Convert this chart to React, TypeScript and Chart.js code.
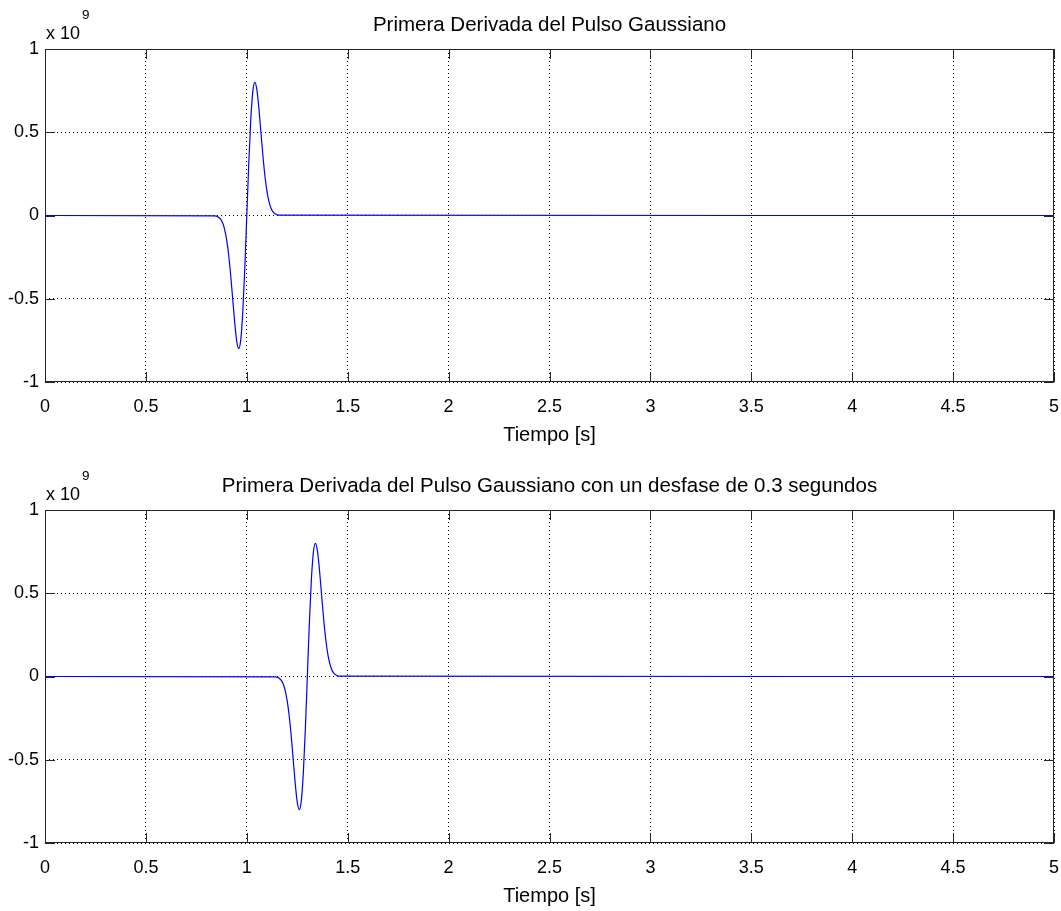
import React, { useEffect, useRef } from "react";
import { Chart, registerables } from "chart.js";

Chart.register(...registerables);

// ---- Data (values in units of 10^9) ----
const pulseTimeTop = [0, 0.84, 0.85, 0.86, 0.87, 0.88, 0.89, 0.9, 0.91, 0.92, 0.93, 0.94, 0.95, 0.96, 0.97, 0.98, 0.99, 1.0, 1.01, 1.02, 1.03, 1.04, 1.05, 1.06, 1.07, 1.08, 1.09, 1.1, 1.11, 1.12, 1.13, 1.14, 1.15, 1.16, 5];
const pulseValueTop = [0, -0.002, -0.004, -0.01, -0.022, -0.044, -0.083, -0.145, -0.236, -0.357, -0.499, -0.642, -0.755, -0.8, -0.747, -0.582, -0.32, 0, 0.32, 0.582, 0.747, 0.8, 0.755, 0.642, 0.499, 0.357, 0.236, 0.145, 0.083, 0.044, 0.022, 0.01, 0.004, 0.002, 0];

const pulseTimeBottom = [0, 1.14, 1.15, 1.16, 1.17, 1.18, 1.19, 1.2, 1.21, 1.22, 1.23, 1.24, 1.25, 1.26, 1.27, 1.28, 1.29, 1.3, 1.31, 1.32, 1.33, 1.34, 1.35, 1.36, 1.37, 1.38, 1.39, 1.4, 1.41, 1.42, 1.43, 1.44, 1.45, 1.46, 5];
const pulseValueBottom = [0, -0.002, -0.004, -0.01, -0.022, -0.044, -0.083, -0.145, -0.236, -0.357, -0.499, -0.642, -0.755, -0.8, -0.747, -0.582, -0.32, 0, 0.32, 0.582, 0.747, 0.8, 0.755, 0.642, 0.499, 0.357, 0.236, 0.145, 0.083, 0.044, 0.022, 0.01, 0.004, 0.002, 0];

const xTickValues = [0, 0.5, 1, 1.5, 2, 2.5, 3, 3.5, 4, 4.5, 5];
const xTickLabels = ["0", "0.5", "1", "1.5", "2", "2.5", "3", "3.5", "4", "4.5", "5"];
const yTickValues = [-1, -0.5, 0, 0.5, 1];
const yTickLabels = ["-1", "-0.5", "0", "0.5", "1"];

const titleTop = "Primera Derivada del Pulso Gaussiano";
const titleBottom = "Primera Derivada del Pulso Gaussiano con un desfase de 0.3 segundos";
const xLabel = "Tiempo [s]";
const exponentBase = "x 10";
const exponentPower = "9";

const FONT = '"Liberation Sans", Arial, Helvetica, sans-serif';

function makePlugin(title: string) {
  return {
    id: "matlabAxes",
    afterDraw(chart: any) {
      const ctx = chart.ctx;
      const a = chart.chartArea;
      const xs = chart.scales.x;
      const ys = chart.scales.y;
      ctx.save();
      ctx.setLineDash([]);
      ctx.globalAlpha = 1;
      ctx.fillStyle = "#262626";
      const L = Math.round(a.left);
      const R = Math.round(a.right) - 1;
      const T = Math.round(a.top);
      const B = Math.round(a.bottom) - 1;
      // box
      ctx.fillRect(L, T, R - L + 1, 1);
      ctx.fillRect(L, B, R - L + 1, 1);
      ctx.fillRect(L, T, 1, B - T + 1);
      ctx.fillRect(R, T, 1, B - T + 1);
      // inward ticks
      for (const v of xTickValues) {
        const p = Math.round(xs.getPixelForValue(v));
        ctx.fillRect(p, B - 9, 1, 10);
        ctx.fillRect(p, T, 1, 10);
      }
      for (const v of yTickValues) {
        const p = Math.round(ys.getPixelForValue(v));
        ctx.fillRect(L, p, 10, 1);
        ctx.fillRect(R - 9, p, 10, 1);
      }
      // texts
      ctx.fillStyle = "#000";
      ctx.textBaseline = "middle";
      ctx.textAlign = "center";
      ctx.font = `20.5px ${FONT}`;
      ctx.fillText(title, (a.left + a.right) / 2, a.top - 24);
      ctx.font = `20px ${FONT}`;
      ctx.fillText(xLabel, (a.left + a.right) / 2, a.bottom + 53);
      ctx.textAlign = "left";
      ctx.font = `18px ${FONT}`;
      ctx.fillText(exponentBase, a.left + 1, a.top - 15);
      const w = ctx.measureText(exponentBase).width;
      ctx.font = `13.5px ${FONT}`;
      ctx.fillText(exponentPower, a.left + 1 + w + 2, a.top - 34);
      ctx.restore();
    },
  };
}

function makeChart(
  canvas: HTMLCanvasElement,
  times: number[],
  values: number[],
  title: string,
  padTop: number,
  xHeight: number
) {
  const points = times.map((t, i) => ({ x: t, y: values[i] }));
  return new Chart(canvas, {
    type: "line",
    data: {
      datasets: [
        {
          data: points,
          borderColor: "#0000ff",
          borderWidth: 1.2,
          pointRadius: 0,
          cubicInterpolationMode: "monotone",
          fill: false,
        },
      ],
    },
    options: {
      animation: false,
      responsive: false,
      maintainAspectRatio: false,
      layout: { padding: { top: padTop, left: 0, right: 7, bottom: 0 } },
      plugins: { legend: { display: false }, tooltip: { enabled: false }, title: { display: false } },
      scales: {
        x: {
          type: "linear",
          min: 0,
          max: 5,
          afterBuildTicks: (s: any) => {
            s.ticks = xTickValues.map((v) => ({ value: v }));
          },
          afterFit: (s: any) => {
            s.height = xHeight;
            s.paddingLeft = 0;
            s.paddingRight = 0;
          },
          ticks: {
            autoSkip: false,
            maxRotation: 0,
            padding: 14,
            color: "#000",
            font: { family: FONT, size: 18 },
            callback: (v: any) => {
              const i = xTickValues.indexOf(Number(v));
              return i >= 0 ? xTickLabels[i] : "";
            },
          },
          grid: { color: "#000", lineWidth: 1, drawTicks: false },
          border: { display: false, dash: [1, 3] },
        },
        y: {
          type: "linear",
          min: -1,
          max: 1,
          afterBuildTicks: (s: any) => {
            s.ticks = yTickValues.map((v) => ({ value: v }));
          },
          afterFit: (s: any) => {
            s.width = 45;
            s.paddingTop = 0;
            s.paddingBottom = 0;
          },
          ticks: {
            autoSkip: false,
            padding: 6,
            color: "#000",
            font: { family: FONT, size: 18 },
            callback: (v: any) => {
              const i = yTickValues.indexOf(Number(v));
              return i >= 0 ? yTickLabels[i] : "";
            },
          },
          grid: { color: "#000", lineWidth: 1, drawTicks: false },
          border: { display: false, dash: [1, 3] },
        },
      },
    } as any,
    plugins: [makePlugin(title)],
  });
}

export default function App() {
  const topRef = useRef<HTMLCanvasElement>(null);
  const botRef = useRef<HTMLCanvasElement>(null);

  useEffect(() => {
    if (!topRef.current || !botRef.current) return;
    const c1 = makeChart(topRef.current, pulseTimeTop, pulseValueTop, titleTop, 49, 73);
    const c2 = makeChart(botRef.current, pulseTimeBottom, pulseValueBottom, titleBottom, 55, 68);
    return () => {
      c1.destroy();
      c2.destroy();
    };
  }, []);

  return (
    <div style={{ position: "absolute", left: 0, top: 0, width: 1061, height: 911, background: "#fff" }}>
      <canvas
        ref={topRef}
        width={1061}
        height={455}
        style={{ position: "absolute", left: 0, top: 0, width: 1061, height: 455, display: "block" }}
      />
      <canvas
        ref={botRef}
        width={1061}
        height={456}
        style={{ position: "absolute", left: 0, top: 455, width: 1061, height: 456, display: "block" }}
      />
    </div>
  );
}
